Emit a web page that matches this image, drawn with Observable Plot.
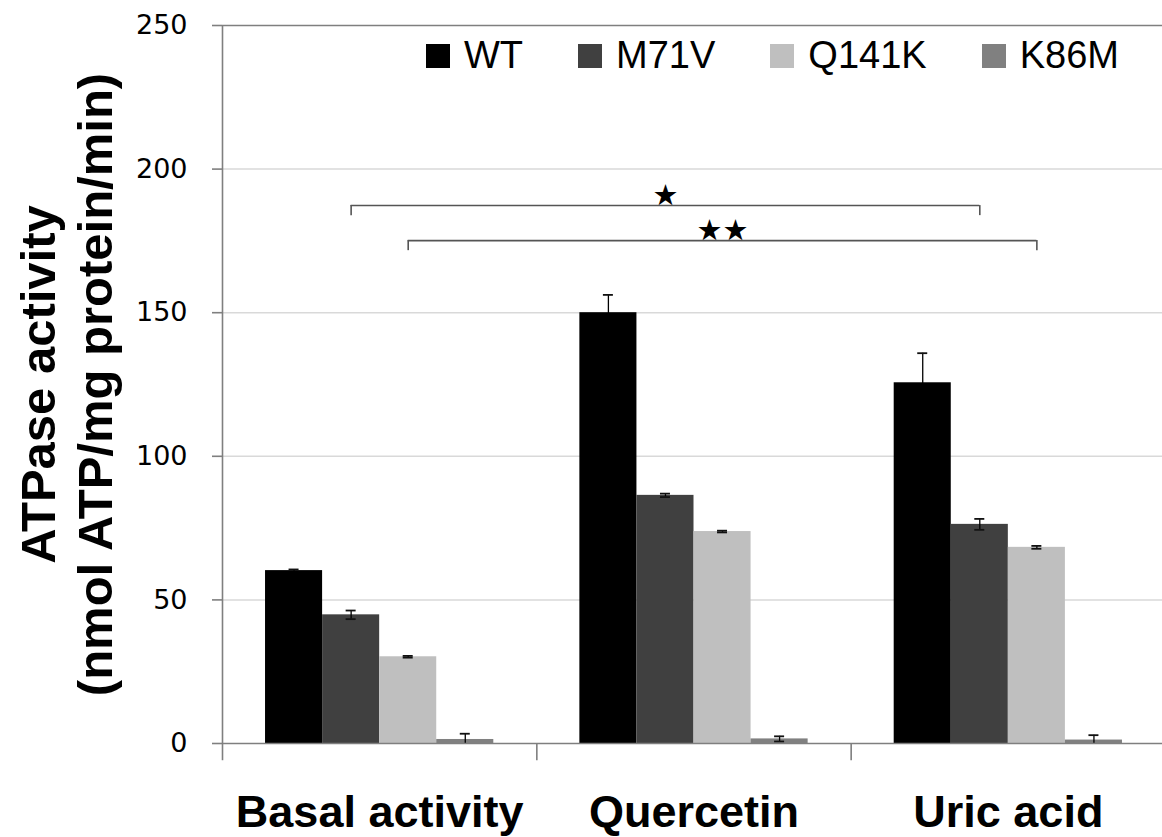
<!DOCTYPE html>
<html><head><meta charset="utf-8">
<script src="https://cdn.jsdelivr.net/npm/d3@7"></script>
<script src="https://cdn.jsdelivr.net/npm/@observablehq/plot@0.6"></script>
<style>
html,body{margin:0;padding:0;background:#fff;overflow:hidden}
#wrap{position:relative;width:1162px;height:837px}
#legend{position:absolute;left:426px;top:36px;display:flex;font-family:"Liberation Sans",Arial,sans-serif;font-size:38px;line-height:1;color:#000}
.item{display:flex;align-items:baseline;margin-right:55px}
.sw{display:inline-block;width:24px;height:24px;margin-right:14px}
</style></head><body><div id="wrap"><div id="chart"></div><div id="legend"></div></div>
<script>
// ---- data ----
const categories = ["Basal activity", "Quercetin", "Uric acid"];
const series = ["WT", "M71V", "Q141K", "K86M"];
const colors = ["#000000", "#404040", "#bfbfbf", "#808080"];
const WT = [60.2, 150.0, 125.6];
const M71V = [44.8, 86.4, 76.3];
const Q141K = [30.2, 73.8, 68.3];
const K86M = [1.4, 1.6, 1.2];
const WT_err = [0.4, 6.2, 10.3];
const M71V_err = [1.5, 0.6, 1.9];
const Q141K_err = [0.3, 0.3, 0.5];
const K86M_err = [2.0, 0.9, 1.7];
const yTicks = [0, 50, 100, 150, 200, 250];
const yTitle = ["ATPase activity", "(nmol ATP/mg protein/min)"];
const brackets = [
  {series: "M71V", from: 0, to: 2, level: 187.3, leg: 3.5, label: "★"},
  {series: "Q141K", from: 0, to: 2, level: 175.1, leg: 3.5, label: "★★"}
];

const values = {WT, M71V, Q141K, K86M};
const errors = {WT: WT_err, M71V: M71V_err, Q141K: Q141K_err, K86M: K86M_err};

// sub-band layout inside each category
const band = d3.scaleBand().domain(series).range([0, 1]).paddingInner(0).paddingOuter(0.754);
const center = (i, s) => i + band(s) + band.bandwidth() / 2;

const rows = [];
categories.forEach((c, i) => series.forEach(s => {
  rows.push({cat: c, series: s, value: values[s][i], err: errors[s][i],
    x1: i + band(s), x2: i + band(s) + band.bandwidth(), xc: center(i, s)});
}));
const legs = brackets.flatMap(b => [b.from, b.to].map(i => ({x: center(i, b.series), y1: b.level, y2: b.level - b.leg})));

const axisColor = "#7f7f7f";
const chart = Plot.plot({
  width: 1162, height: 837,
  marginLeft: 222, marginRight: -3, marginTop: 25, marginBottom: 94,
  x: {domain: [0, categories.length]},
  y: {domain: [0, 250]},
  color: {domain: series, range: colors},
  style: {background: "#fff", fontFamily: "DejaVu Sans"},
  marks: [
    Plot.ruleY(yTicks.filter(t => t > 0 && t < 250), {stroke: "#d9d9d9", strokeWidth: 1.5}),
    Plot.ruleY([250], {stroke: axisColor, strokeWidth: 1.6}),
    Plot.rect(rows, {x1: "x1", x2: "x2", y1: 0, y2: "value", fill: "series"}),
    Plot.ruleX(rows, {x: "xc", y1: d => Math.max(0, d.value - d.err), y2: d => d.value + d.err, stroke: "#000", strokeWidth: 1.3}),
    Plot.ruleY(rows, {x1: "xc", x2: "xc", y: d => d.value + d.err, insetLeft: -5, insetRight: -5, stroke: "#111", strokeWidth: 1.8}),
    Plot.ruleY(rows.filter(d => d.value - d.err > 0 && d.series !== "WT"), {x1: "xc", x2: "xc", y: d => d.value - d.err, insetLeft: -5, insetRight: -5, stroke: "#111", strokeWidth: 1.8}),
    Plot.ruleY([0], {stroke: axisColor, strokeWidth: 1.6}),
    Plot.ruleX([0], {y1: 0, y2: 250, stroke: axisColor, strokeWidth: 1.6}),
    Plot.ruleX(d3.range(categories.length), {y1: 0, y2: -6, stroke: axisColor, strokeWidth: 1.6}),
    Plot.ruleY(yTicks, {x1: 0, x2: 0, insetLeft: -10, stroke: axisColor, strokeWidth: 1.6}),
    Plot.axisY({ticks: yTicks, tickSize: 0, tickPadding: 35, fontSize: 27, fontFamily: "DejaVu Sans", label: null}),
    Plot.axisX({ticks: categories.map((c, i) => i + 0.5), tickFormat: d => categories[Math.floor(d)],
      tickSize: 0, tickPadding: 52, fontSize: 45, fontWeight: "bold", fontFamily: "Liberation Sans", label: null}),
    Plot.text([yTitle.join("\n")], {frameAnchor: "left", textAnchor: "middle", rotate: -90, dx: -157, fontSize: 49, fontWeight: "bold",
      fontFamily: "Liberation Sans", lineHeight: 1.15, lineAnchor: "middle"}),
    Plot.ruleY(brackets, {x1: d => center(d.from, d.series), x2: d => center(d.to, d.series), y: "level", stroke: "#555", strokeWidth: 1.6}),
    Plot.ruleX(legs, {x: "x", y1: "y1", y2: "y2", stroke: "#555", strokeWidth: 1.6}),
    Plot.text(brackets, {x: d => (center(d.from, d.series) + center(d.to, d.series)) / 2, y: "level", text: "label",
      lineAnchor: "bottom", dy: -1, fontSize: 29, fontFamily: "DejaVu Sans"})
  ]
});
document.getElementById("chart").appendChild(chart);

// legend
const legend = d3.select("#legend");
series.forEach((s, i) => {
  const it = legend.append("div").attr("class", "item");
  it.append("span").attr("class", "sw").style("background", colors[i]);
  it.append("span").text(s);
});
</script>
</body></html>
